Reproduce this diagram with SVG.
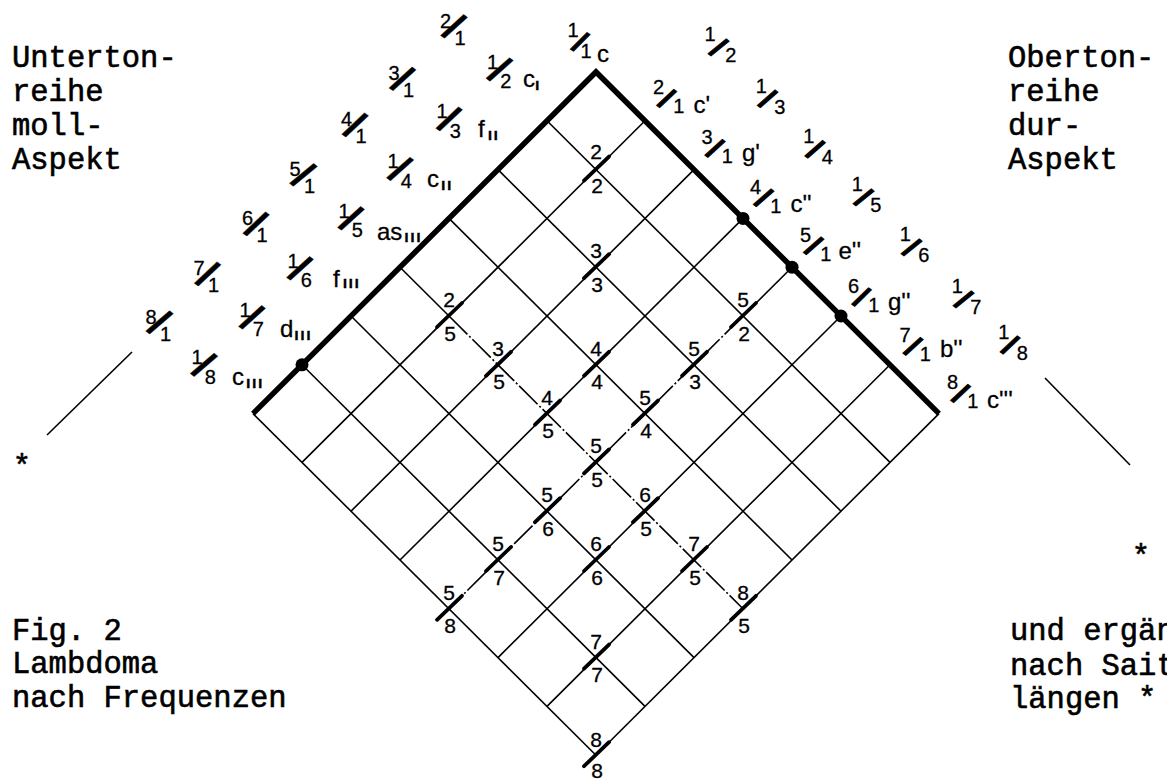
<svg xmlns="http://www.w3.org/2000/svg" width="1167" height="781" viewBox="0 0 1167 781">
<style>
.g{stroke:#000;stroke-width:1.6;fill:none;stroke-linecap:butt}
.dash{stroke-dasharray:26 2.5 2 2.5}
.thick{stroke:#000;stroke-width:5.5;fill:none;stroke-linejoin:miter}
.tick{stroke:#000;stroke-width:3.8;stroke-linecap:round}
.dot{fill:#000}
.n{font-family:"Liberation Sans",Arial,sans-serif;font-size:21px;text-anchor:middle;fill:#000;stroke:#000;stroke-width:0.3}
.fd{font-family:"Liberation Sans",Arial,sans-serif;font-size:20px;text-anchor:middle;fill:#000;stroke:#000;stroke-width:0.3}
.sl{font-family:"Liberation Sans",Arial,sans-serif;font-weight:bold;font-size:41px;text-anchor:middle;fill:#000;stroke:#000;stroke-width:0.4}
.sr{font-family:"Liberation Sans",Arial,sans-serif;font-weight:bold;font-size:31px;text-anchor:middle;fill:#000;stroke:#000;stroke-width:0.9}
.nt{font-family:"Liberation Sans",Arial,sans-serif;font-size:24px;fill:#000;stroke:#000;stroke-width:0.3}
.sub{font-weight:bold;font-size:16px;letter-spacing:1.5px}
.tw{font-family:"Liberation Mono","Courier New",monospace;font-size:30.5px;fill:#000;stroke:#000;stroke-width:0.6}
</style>
<rect width="1167" height="781" fill="#fff"/>

<g id="connectors">
  <line class="g" x1="645" y1="120.8" x2="302" y2="462.4"/>
  <line class="g" x1="694" y1="169.6" x2="351" y2="511.2"/>
  <line class="g" x1="743" y1="218.4" x2="400" y2="560"/>
  <line class="g" x1="792" y1="267.2" x2="743" y2="316"/>
  <line class="g dash" x1="743" y1="316" x2="449" y2="608.8"/>
  <line class="g" x1="841" y1="316" x2="498" y2="657.6"/>
  <line class="g" x1="890" y1="364.8" x2="547" y2="706.4"/>
  <line class="g" x1="939" y1="413.6" x2="596" y2="755.2"/>
  <line class="g" x1="547" y1="120.8" x2="890" y2="462.4"/>
  <line class="g" x1="498" y1="169.6" x2="841" y2="511.2"/>
  <line class="g" x1="449" y1="218.4" x2="792" y2="560"/>
  <line class="g" x1="400" y1="267.2" x2="449" y2="316"/>
  <line class="g dash" x1="449" y1="316" x2="743" y2="608.8"/>
  <line class="g" x1="351" y1="316" x2="694" y2="657.6"/>
  <line class="g" x1="302" y1="364.8" x2="645" y2="706.4"/>
  <line class="g" x1="253" y1="413.6" x2="596" y2="755.2"/>
  <polyline class="thick" points="253,413.6 596,72 939,413.6"/>
  <line class="g" x1="47" y1="435" x2="132" y2="352"/>
  <line class="g" x1="1045" y1="378" x2="1130" y2="465"/>
</g>

<g id="dots">
  <circle class="dot" cx="743" cy="218.4" r="6.5"/>
  <circle class="dot" cx="792" cy="267.2" r="6.5"/>
  <circle class="dot" cx="841" cy="316" r="6.5"/>
  <circle class="dot" cx="302" cy="364.8" r="6.5"/>
</g>

<g id="p2-2"><line class="tick" x1="584" y1="180.6" x2="609" y2="156.6"/><text class="n" x="596" y="159">2</text><text class="n" x="597" y="193">2</text></g>
<g id="p3-3"><line class="tick" x1="584" y1="278.2" x2="609" y2="254.2"/><text class="n" x="596" y="258.2">3</text><text class="n" x="597" y="291.7">3</text></g>
<g id="p4-4"><line class="tick" x1="584" y1="375.8" x2="609" y2="351.8"/><text class="n" x="596" y="355.8">4</text><text class="n" x="597" y="389.3">4</text></g>
<g id="p5-5"><line class="tick" x1="584" y1="473.4" x2="609" y2="449.4"/><text class="n" x="596" y="453.4">5</text><text class="n" x="597" y="486.9">5</text></g>
<g id="p6-6"><line class="tick" x1="584" y1="571" x2="609" y2="547"/><text class="n" x="596" y="551">6</text><text class="n" x="597" y="584.5">6</text></g>
<g id="p7-7"><line class="tick" x1="584" y1="668.6" x2="609" y2="644.6"/><text class="n" x="596" y="648.6">7</text><text class="n" x="597" y="682.1">7</text></g>
<g id="p8-8"><line class="tick" x1="584" y1="766.2" x2="609" y2="742.2"/><text class="n" x="596" y="747">8</text><text class="n" x="597" y="778">8</text></g>
<g id="p2-5"><line class="tick" x1="437" y1="327" x2="462" y2="303"/><text class="n" x="449" y="307">2</text><text class="n" x="450" y="340.5">5</text></g>
<g id="p3-5"><line class="tick" x1="486" y1="375.8" x2="511" y2="351.8"/><text class="n" x="498" y="355.8">3</text><text class="n" x="499" y="389.3">5</text></g>
<g id="p4-5"><line class="tick" x1="535" y1="424.6" x2="560" y2="400.6"/><text class="n" x="547" y="404.6">4</text><text class="n" x="548" y="438.1">5</text></g>
<g id="p6-5"><line class="tick" x1="633" y1="522.2" x2="658" y2="498.2"/><text class="n" x="645" y="502.2">6</text><text class="n" x="646" y="535.7">5</text></g>
<g id="p7-5"><line class="tick" x1="682" y1="571" x2="707" y2="547"/><text class="n" x="694" y="551">7</text><text class="n" x="695" y="584.5">5</text></g>
<g id="p8-5"><line class="tick" x1="731" y1="619.8" x2="756" y2="595.8"/><text class="n" x="743" y="599.8">8</text><text class="n" x="744" y="633.3">5</text></g>
<g id="p5-2"><line class="tick" x1="731" y1="327" x2="756" y2="303"/><text class="n" x="743" y="307">5</text><text class="n" x="744" y="340.5">2</text></g>
<g id="p5-3"><line class="tick" x1="682" y1="375.8" x2="707" y2="351.8"/><text class="n" x="694" y="355.8">5</text><text class="n" x="695" y="389.3">3</text></g>
<g id="p5-4"><line class="tick" x1="633" y1="424.6" x2="658" y2="400.6"/><text class="n" x="645" y="404.6">5</text><text class="n" x="646" y="438.1">4</text></g>
<g id="p5-6"><line class="tick" x1="535" y1="522.2" x2="560" y2="498.2"/><text class="n" x="547" y="502.2">5</text><text class="n" x="548" y="535.7">6</text></g>
<g id="p5-7"><line class="tick" x1="486" y1="571" x2="511" y2="547"/><text class="n" x="498" y="551">5</text><text class="n" x="499" y="584.5">7</text></g>
<g id="p5-8"><line class="tick" x1="437" y1="619.8" x2="462" y2="595.8"/><text class="n" x="449" y="599.8">5</text><text class="n" x="450" y="633.3">8</text></g>

<g id="top-1-1"><text class="fd" x="573" y="37">1</text><text class="sr" transform="translate(580 42) rotate(34)" y="10.8">/</text><text class="fd" x="586" y="58">1</text><text class="nt" x="597" y="62">c</text></g>

<g id="u2-1"><text class="fd" x="445.6" y="27.8">2</text><text class="sl" transform="translate(454 26.5) rotate(37)" y="14.4">/</text><text class="fd" x="460" y="44.9">1</text></g>
<g id="u3-1"><text class="fd" x="394.1" y="80.3">3</text><text class="sl" transform="translate(402.5 79) rotate(37)" y="14.4">/</text><text class="fd" x="408.5" y="97.4">1</text></g>
<g id="u4-1"><text class="fd" x="346.6" y="126.3">4</text><text class="sl" transform="translate(355 125) rotate(36)" y="14.4">/</text><text class="fd" x="361" y="143.4">1</text></g>
<g id="u5-1"><text class="fd" x="295.1" y="176.3">5</text><text class="sl" transform="translate(303.5 175) rotate(40)" y="14.4">/</text><text class="fd" x="309.5" y="193.4">1</text></g>
<g id="u6-1"><text class="fd" x="247.6" y="225.3">6</text><text class="sl" transform="translate(256 224) rotate(36)" y="14.4">/</text><text class="fd" x="262" y="242.4">1</text></g>
<g id="u7-1"><text class="fd" x="199.1" y="275.3">7</text><text class="sl" transform="translate(207.5 274) rotate(36)" y="14.4">/</text><text class="fd" x="213.5" y="292.4">1</text></g>
<g id="u8-1"><text class="fd" x="151.1" y="323.8">8</text><text class="sl" transform="translate(159.5 322.5) rotate(39)" y="14.4">/</text><text class="fd" x="165.5" y="340.9">1</text></g>

<g id="u1-2"><text class="fd" x="492.5" y="68.9">1</text><text class="sl" transform="translate(499.5 69.5) rotate(38)" y="14.4">/</text><text class="fd" x="505.7" y="88.2">2</text><text class="nt" x="523" y="87">c<tspan class="sub" dy="3">ı</tspan></text></g>
<g id="u1-3"><text class="fd" x="442" y="118.4">1</text><text class="sl" transform="translate(449 119) rotate(36)" y="14.4">/</text><text class="fd" x="455.2" y="137.7">3</text><text class="nt" x="478" y="137">f<tspan class="sub" dx="3" dy="3">ıı</tspan></text></g>
<g id="u1-4"><text class="fd" x="393" y="168.4">1</text><text class="sl" transform="translate(400 169) rotate(38)" y="14.4">/</text><text class="fd" x="406.2" y="187.7">4</text><text class="nt" x="427" y="187">c<tspan class="sub" dx="2" dy="3">ıı</tspan></text></g>
<g id="u1-5"><text class="fd" x="344" y="217.9">1</text><text class="sl" transform="translate(351 218.5) rotate(37)" y="14.4">/</text><text class="fd" x="357.2" y="237.2">5</text><text class="nt" x="377" y="240">as<tspan class="sub" dx="2" dy="2">ııı</tspan></text></g>
<g id="u1-6"><text class="fd" x="293" y="267.9">1</text><text class="sl" transform="translate(300 268.5) rotate(37)" y="14.4">/</text><text class="fd" x="306.2" y="287.2">6</text><text class="nt" x="333" y="287">f<tspan class="sub" dx="3" dy="1">ııı</tspan></text></g>
<g id="u1-7"><text class="fd" x="245" y="316.9">1</text><text class="sl" transform="translate(252 317.5) rotate(37)" y="14.4">/</text><text class="fd" x="258.2" y="336.2">7</text><text class="nt" x="280" y="337">d<tspan class="sub" dx="1" dy="3">ııı</tspan></text></g>
<g id="u1-8"><text class="fd" x="197" y="364.4">1</text><text class="sl" transform="translate(204 365) rotate(39)" y="14.4">/</text><text class="fd" x="210.2" y="383.7">8</text><text class="nt" x="232" y="385">c<tspan class="sub" dx="2" dy="3">ııı</tspan></text></g>

<g id="o1-2"><text class="fd" x="710" y="41.2">1</text><text class="sr" transform="translate(718.5 47.5) rotate(40)" y="10.8">/</text><text class="fd" x="730.8" y="62.2">2</text></g>
<g id="o1-3"><text class="fd" x="761.2" y="92.7">1</text><text class="sr" transform="translate(767.5 99) rotate(38)" y="10.8">/</text><text class="fd" x="779.8" y="113.7">3</text></g>
<g id="o1-4"><text class="fd" x="808.7" y="143.2">1</text><text class="sr" transform="translate(815 149.5) rotate(38)" y="10.8">/</text><text class="fd" x="827.3" y="164.2">4</text></g>
<g id="o1-5"><text class="fd" x="857.2" y="191.2">1</text><text class="sr" transform="translate(863.5 197.5) rotate(40)" y="10.8">/</text><text class="fd" x="875.8" y="212.2">5</text></g>
<g id="o1-6"><text class="fd" x="905.2" y="241.2">1</text><text class="sr" transform="translate(911.5 247.5) rotate(40)" y="10.8">/</text><text class="fd" x="923.8" y="262.2">6</text></g>
<g id="o1-7"><text class="fd" x="957.2" y="293.2">1</text><text class="sr" transform="translate(963.5 299.5) rotate(40)" y="10.8">/</text><text class="fd" x="975.8" y="314.2">7</text></g>
<g id="o1-8"><text class="fd" x="1003.7" y="338.7">1</text><text class="sr" transform="translate(1010 345) rotate(36)" y="10.8">/</text><text class="fd" x="1022.3" y="359.7">8</text></g>

<g id="o2-1"><text class="fd" x="658.5" y="94.2">2</text><text class="sr" transform="translate(666.5 98.5) rotate(36)" y="10.8">/</text><text class="fd" x="678.9" y="113.1">1</text><text class="nt" x="693.5" y="112.5">c'</text></g>
<g id="o3-1"><text class="fd" x="707" y="144.2">3</text><text class="sr" transform="translate(715 148.5) rotate(37)" y="10.8">/</text><text class="fd" x="727.4" y="163.1">1</text><text class="nt" x="742" y="161">g'</text></g>
<g id="o4-1"><text class="fd" x="755.5" y="193.7">4</text><text class="sr" transform="translate(763.5 198) rotate(38)" y="10.8">/</text><text class="fd" x="775.9" y="212.6">1</text><text class="nt" x="790.5" y="212">c''</text></g>
<g id="o5-1"><text class="fd" x="805.5" y="241.7">5</text><text class="sr" transform="translate(813.5 246) rotate(38)" y="10.8">/</text><text class="fd" x="825.9" y="260.6">1</text><text class="nt" x="838.5" y="259">e''</text></g>
<g id="o6-1"><text class="fd" x="853.5" y="292.7">6</text><text class="sr" transform="translate(861.5 297) rotate(35)" y="10.8">/</text><text class="fd" x="873.9" y="311.6">1</text><text class="nt" x="888" y="310">g''</text></g>
<g id="o7-1"><text class="fd" x="905" y="342.2">7</text><text class="sr" transform="translate(913 346.5) rotate(37)" y="10.8">/</text><text class="fd" x="925.4" y="361.1">1</text><text class="nt" x="940" y="357">b''</text></g>
<g id="o8-1"><text class="fd" x="952.5" y="389.2">8</text><text class="sr" transform="translate(960.5 393.5) rotate(36)" y="10.8">/</text><text class="fd" x="972.9" y="408.1">1</text><text class="nt" x="987" y="408">c'''</text></g>

<g id="caption-untertone">
  <text class="tw" x="12" y="67">Unterton-</text>
  <text class="tw" x="12" y="101">reihe</text>
  <text class="tw" x="12" y="135">moll-</text>
  <text class="tw" x="12" y="169">Aspekt</text>
</g>
<g id="caption-obertone">
  <text class="tw" x="1008" y="67">Oberton-</text>
  <text class="tw" x="1008" y="101">reihe</text>
  <text class="tw" x="1008" y="135">dur-</text>
  <text class="tw" x="1008" y="169">Aspekt</text>
</g>
<g id="caption-fig">
  <text class="tw" x="12" y="640">Fig. 2</text>
  <text class="tw" x="12" y="673">Lambdoma</text>
  <text class="tw" x="12" y="707">nach Frequenzen</text>
</g>
<g id="caption-saiten">
  <text class="tw" x="1010" y="640">und ergän</text>
  <text class="tw" x="1010" y="675">nach Sait</text>
  <text class="tw" x="1010" y="708">längen *</text>
</g>
<g id="star-left"><text class="tw" x="22" y="476" text-anchor="middle">*</text></g>
<g id="star-right"><text class="tw" x="1141" y="566" text-anchor="middle">*</text></g>
</svg>
